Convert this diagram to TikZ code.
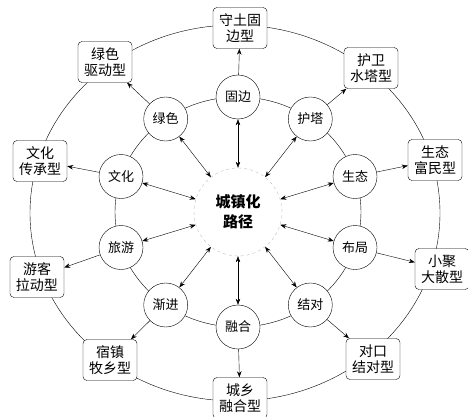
\documentclass[tikz,border=0pt]{standalone}
\usepackage{fontspec}
\setmainfont{Noto Sans CJK SC}
\usetikzlibrary{arrows.meta}

\begin{document}
\begin{tikzpicture}[
    x=1pt, y=1pt,
    % Define styles for reusable components
    way/.style={draw, thin, circle, fill=white, minimum size=44pt, inner sep=0pt, font=\fontsize{13}{15}\selectfont},
    typebox/.style={draw, thin, rounded corners=4pt, fill=white, align=center, minimum width=54pt, minimum height=41pt, inner sep=1pt, font=\fontsize{14}{16}\selectfont},
    core/.style={draw=gray!50, dashed, circle, fill=white, minimum size=88pt, align=center, font=\fontsize{15}{20}\selectfont\bfseries},
    ring/.style={thin},
    both/.style={{Stealth[length=6pt]}-{Stealth[length=6pt]}, thin},
    arrow/.style={-{Stealth[length=6pt]}, thin}
]
    \useasboundingbox (0,0) rectangle (468,416);

    % --- RINGS ---
    \draw[ring] (235,203) ellipse (205 and 188); % outer ring of types
    \draw[ring] (238,204) ellipse (123 and 115); % inner ring of ways

    % --- CENTRE ---
    \node[core] (c) at (238,204) {城镇化\\路径};

    % --- WAYS (inner ring, every 36 degrees) ---
    \node[way] (gb) at (238,319)   {固边};
    \node[way] (ht) at (310.3,297) {护塔};
    \node[way] (st) at (355,239.5) {生态};
    \node[way] (bj) at (355,168.5) {布局};
    \node[way] (jd) at (310.3,111) {结对};
    \node[way] (rh) at (238,89)    {融合};
    \node[way] (jj) at (165.7,111) {渐进};
    \node[way] (ly) at (121,168.5) {旅游};
    \node[way] (wh) at (121,239.5) {文化};
    \node[way] (ls) at (165.7,297) {绿色};

    % --- TYPES (outer ring) ---
    \node[typebox] (tgb) at (240,388) {守土固\\边型};
    \node[typebox] (tht) at (371,348) {护卫\\水塔型};
    \node[typebox] (tst) at (435,256) {生态\\富民型};
    \node[typebox] (tbj) at (442,147) {小聚\\大散型};
    \node[typebox] (tjd) at (373,57)  {对口\\结对型};
    \node[typebox] (trh) at (240,18)  {城乡\\融合型};
    \node[typebox] (tjj) at (110,56)  {宿镇\\牧乡型};
    \node[typebox] (tly) at (37,139)  {游客\\拉动型};
    \node[typebox] (twh) at (40,255)  {文化\\传承型};
    \node[typebox] (tls) at (105,354) {绿色\\驱动型};

    % --- CENTRE <-> WAYS ---
    \foreach \w in {gb,ht,st,bj,jd,rh,jj,ly,wh,ls}
        \draw[both] (c) -- (\w);

    % --- WAYS -> TYPES ---
    \draw[arrow] (gb) -- (tgb);
    \draw[arrow] (ht) -- (tht);
    \draw[arrow] (st) -- (tst);
    \draw[arrow] (bj) -- (tbj);
    \draw[arrow] (jd) -- (tjd);
    \draw[arrow] (rh) -- (trh);
    \draw[arrow] (jj) -- (tjj);
    \draw[arrow] (ly) -- (tly);
    \draw[arrow] (wh) -- (twh);
    \draw[arrow] (ls) -- (tls);

\end{tikzpicture}
\end{document}
